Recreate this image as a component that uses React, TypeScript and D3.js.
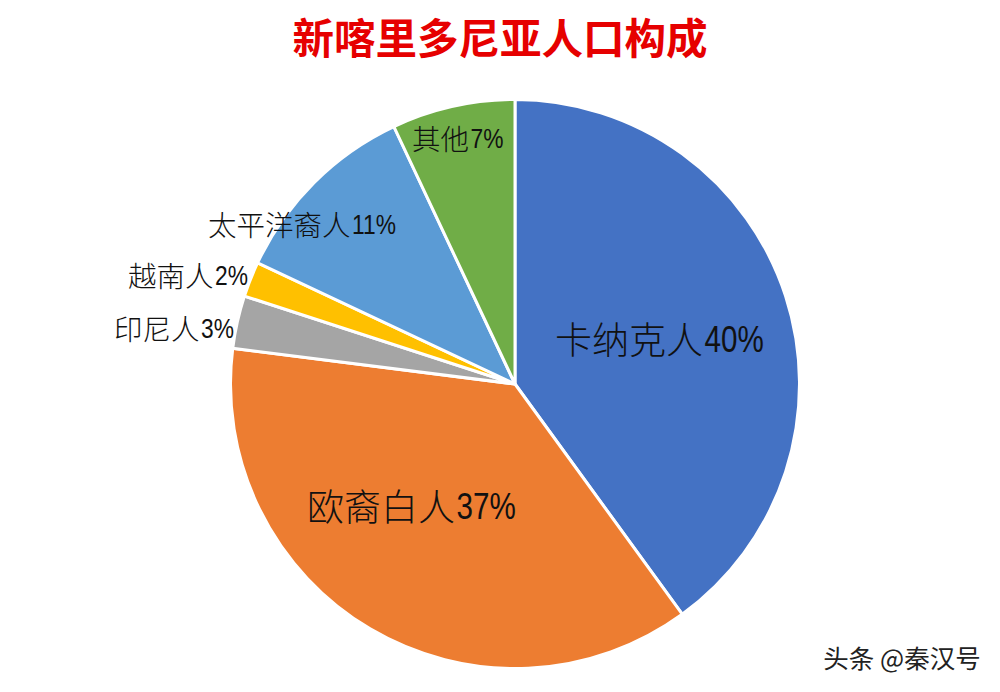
import React from 'react';
import * as d3 from 'd3';

const categories = ['卡纳克人', '欧裔白人', '印尼人', '越南人', '太平洋裔人', '其他'];
const shares = [40, 37, 3, 2, 11, 7];
const colors = ['#4472c4', '#ed7d31', '#a5a5a5', '#ffc000', '#5b9bd5', '#70ad47'];
// label left edge and centre line in chart px, font size
const labelPos: [number, number, number][] = [
  [555, 338, 37],
  [307, 505, 37],
  [114, 327, 28.5],
  [128, 274, 28.5],
  [208, 223, 28.5],
  [412, 137, 28.5],
];

const W = 1000;
const H = 692;
const cx = 515;
const cy = 384;
const radius = 284.5;
const digitSquash = 0.8; // numbers in the source are set condensed
const cjk = '"Noto Sans CJK SC", "Noto Sans", sans-serif';
const latin = '"Liberation Sans", sans-serif';

export default function App() {
  const pie = d3.pie<number>().sort(null)(shares);
  const arc = d3.arc<d3.PieArcDatum<number>>().innerRadius(0).outerRadius(radius);

  return (
    <svg
      width={W}
      height={H}
      viewBox={`0 0 ${W} ${H}`}
      style={{ position: 'fixed', left: 0, top: 0, background: '#fff' }}
    >
      <text x={500} y={54} textAnchor="middle" fontFamily={cjk} fontSize={41.5} fontWeight={700} fill="#e60000">
        新喀里多尼亚人口构成
      </text>
      <g transform={`translate(${cx},${cy})`}>
        {pie.map((d, i) => (
          <path key={categories[i]} d={arc(d) || ''} fill={colors[i]} stroke="#fff" strokeWidth={3} />
        ))}
      </g>
      {categories.map((c, i) => {
        const [x, y, size] = labelPos[i];
        return (
          <g key={c} fill="#111">
            <text x={x} y={y} dominantBaseline="central" fontFamily={cjk} fontSize={size} fontWeight={300}>
              {c}
            </text>
            <text
              transform={`translate(${x + c.length * size + 1.5},${y + 1.5}) scale(${digitSquash},1)`}
              dominantBaseline="central"
              fontFamily={latin}
              fontSize={size}
            >
              {shares[i] + '%'}
            </text>
          </g>
        );
      })}
      <text x={902} y={668} textAnchor="middle" fontFamily={cjk} fontSize={25.5} fill="#222">
        头条 @秦汉号
      </text>
    </svg>
  );
}
